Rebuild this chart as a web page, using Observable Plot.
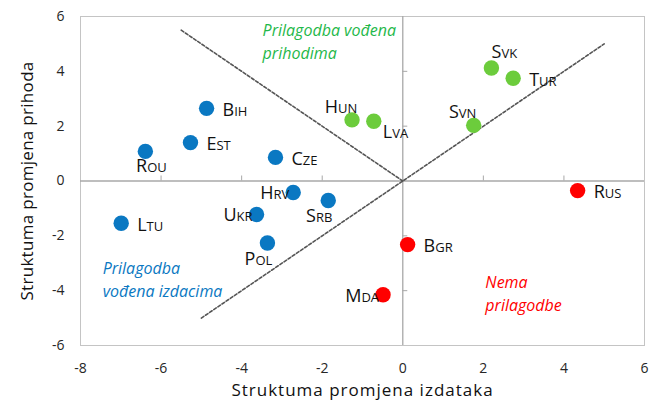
<!DOCTYPE html>
<html><head><meta charset="utf-8">
<script src="https://cdn.jsdelivr.net/npm/d3@7"></script>
<script src="https://cdn.jsdelivr.net/npm/@observablehq/plot@0.6"></script>
<style>body{margin:0;background:#fff} svg{display:block}</style>
</head><body><div id="chart"></div>
<script>
// Data
const countries = ["Bih","Est","Rou","Cze","Hrv","Srb","Ukr","Ltu","Pol","Hun","Lva","Svk","Tur","Svn","Rus","Bgr","Mda"];
const expenditureChange = [-4.87,-5.27,-6.39,-3.16,-2.72,-1.85,-3.63,-6.99,-3.36,-1.26,-0.72,2.20,2.74,1.76,4.34,0.12,-0.49];
const revenueChange = [2.65,1.40,1.08,0.86,-0.42,-0.71,-1.22,-1.54,-2.26,2.23,2.18,4.12,3.75,2.03,-0.35,-2.32,-4.15];
const adjustmentType = ["izdaci","izdaci","izdaci","izdaci","izdaci","izdaci","izdaci","izdaci","izdaci","prihodi","prihodi","prihodi","prihodi","prihodi","nema","nema","nema"];
const labelSide = ["right","right","below","right","left","belowLeft","left","right","belowLeft","aboveLeft","belowRight","aboveRight","right","aboveLeft","right","right","left"];

const xTicks = [-8,-6,-4,-2,0,2,4,6];
const yTicks = [-6,-4,-2,0,2,4,6];

// Guide lines (dashed)
const guideLine = ["a","a","b","b"];
const guideX = [-5.5,0,-5,5];
const guideY = [5.5,0,-5,5];

// Annotations
const noteText = ["Prilagodba vođena\nprihodima","Prilagodba\nvođena izdacima","Nema\nprilagodbe"];
const noteX = [-3.48,-7.45,2.05];
const noteY = [5.13,-3.54,-4.05];
const noteType = ["prihodi","izdaci","nema"];

const xTitle = "Struktuma promjena izdataka";
const yTitle = "Struktuma promjena prihoda";

// Styles
const dotColor = {izdaci:"#0a78c2", prihodi:"#6ccc3c", nema:"#ff0000"};
const noteColor = {izdaci:"#0a78c2", prihodi:"#1fb84a", nema:"#ff0000"};
const place = {
  right:{textAnchor:"start", dx:16, dy:2},
  left:{textAnchor:"end", dx:-4, dy:1},
  aboveLeft:{textAnchor:"middle", dx:-11, dy:-13},
  aboveRight:{textAnchor:"middle", dx:13, dy:-16},
  belowLeft:{textAnchor:"middle", dx:-9, dy:16},
  below:{textAnchor:"middle", dx:6, dy:15},
  belowRight:{textAnchor:"start", dx:9, dy:11}
};

const rows = countries.map((c,i)=>({c, x:expenditureChange[i], y:revenueChange[i], t:adjustmentType[i], side:labelSide[i]}));
const guides = guideLine.map((g,i)=>({g, x:guideX[i], y:guideY[i]}));
const notes = noteText.map((n,i)=>({n, x:noteX[i], y:noteY[i], t:noteType[i]}));

const W=653, H=400, mL=80, mR=9, mT=16, mB=55;
const tickPx = 5;
const yUnitPx = (H-mT-mB)/(yTicks[yTicks.length-1]-yTicks[0]);
const xUnitPx = (W-mL-mR)/(xTicks[xTicks.length-1]-xTicks[0]);

const chart = Plot.plot({
  width:W, height:H, marginLeft:mL, marginRight:mR, marginTop:mT, marginBottom:mB,
  style:{fontFamily:"'Open Sans', sans-serif", fontSize:"14px", color:"#262626", background:"#fff"},
  x:{domain:[xTicks[0], xTicks[xTicks.length-1]]},
  y:{domain:[yTicks[0], yTicks[yTicks.length-1]]},
  marks:[
    Plot.frame({stroke:"#c4c4c4"}),
    Plot.axisX({ticks:xTicks, tickSize:0, tickPadding:18, label:null, fontSize:14, tickFormat:d=>String(d)}),
    Plot.axisY({ticks:yTicks, tickSize:0, tickPadding:16, label:null, fontSize:14, tickFormat:d=>String(d)}),
    Plot.ruleX([0], {stroke:"#a8a8a8", strokeWidth:1.3}),
    Plot.ruleY([0], {stroke:"#a8a8a8", strokeWidth:1.3}),
    Plot.ruleX(xTicks.filter(d=>d!==0 && d!==xTicks[0] && d!==xTicks[xTicks.length-1]), {x:d=>d, y1:0, y2:tickPx/yUnitPx, stroke:"#a8a8a8"}),
    Plot.ruleY(yTicks.filter(d=>d!==0 && d!==yTicks[0] && d!==yTicks[yTicks.length-1]), {y:d=>d, x1:0, x2:tickPx/xUnitPx, stroke:"#a8a8a8"}),
    Plot.line(guides, {x:"x", y:"y", z:"g", stroke:"#555", strokeWidth:1.6, strokeDasharray:"3,2"}),
    Plot.dot(rows, {x:"x", y:"y", r:7.7, fill:d=>dotColor[d.t], stroke:"none"}),
    ...Object.entries(place).map(([k,o]) => Plot.text(rows.filter(r=>r.side===k), {x:"x", y:"y", text:"c", ...o, fontSize:18, fontVariant:"small-caps", fill:"#111"})),
    Plot.text(notes, {x:"x", y:"y", text:"n", fill:d=>noteColor[d.t], textAnchor:"start", lineAnchor:"middle", lineHeight:1.45, fontStyle:"italic", fontSize:16}),
    Plot.text([xTitle], {frameAnchor:"bottom", textAnchor:"middle", lineAnchor:"middle", dy:45.5, fontSize:17, fill:"#111"}),
    Plot.text([yTitle], {frameAnchor:"left", textAnchor:"middle", lineAnchor:"middle", dx:-53, rotate:-90, fontSize:17, fill:"#111"})
  ]
});
d3.select(chart).selectAll("text").filter(function(){return this.textContent===xTitle;}).style("letter-spacing","1px");
d3.select(chart).selectAll("text").filter(function(){return this.textContent===yTitle;}).style("letter-spacing","0.3px");
document.getElementById("chart").appendChild(chart);
</script></body></html>
